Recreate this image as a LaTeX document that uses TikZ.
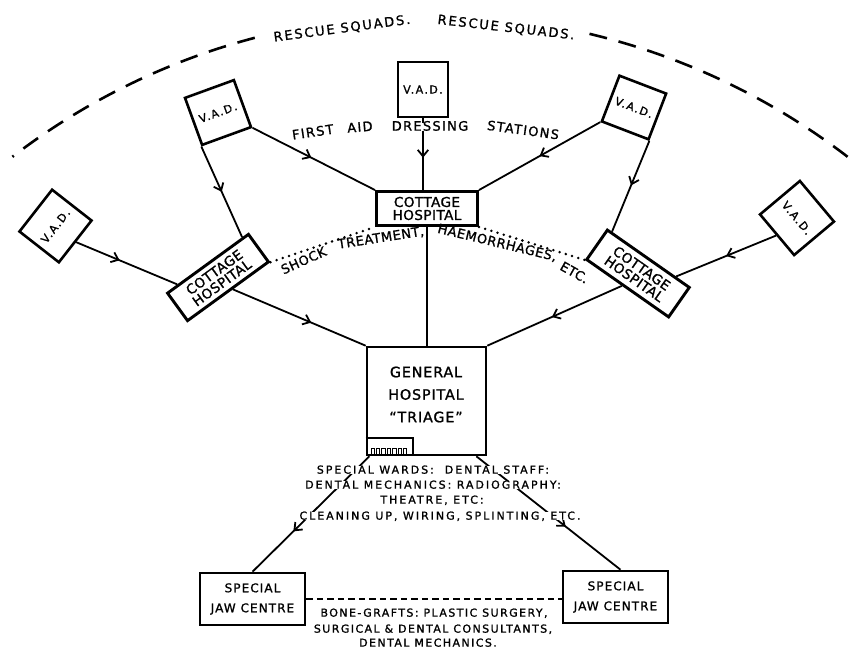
\documentclass[tikz,border=0pt]{standalone}
\usepackage{fontspec}
\setmainfont{DejaVu Sans}
\newfontfamily\fRes[LetterSpace=14,FakeBold=1.2]{DejaVu Sans}
\newfontfamily\fFirst[LetterSpace=10,FakeBold=1.2]{DejaVu Sans}
\newfontfamily\fShock[LetterSpace=4,FakeBold=1.2]{DejaVu Sans}
\newfontfamily\fCot[LetterSpace=3,FakeBold=1.2]{DejaVu Sans}
\newfontfamily\fGen[LetterSpace=6,FakeBold=1.2]{DejaVu Sans}
\newfontfamily\fVad[LetterSpace=13,FakeBold=1.2]{DejaVu Sans}
\newfontfamily\fJaw[LetterSpace=9,FakeBold=1.2]{DejaVu Sans}
\newfontfamily\fMid[LetterSpace=18,FakeBold=1.2]{DejaVu Sans}
\newfontfamily\fBot[LetterSpace=13,FakeBold=1.2]{DejaVu Sans}
\usetikzlibrary{calc,arrows.meta,decorations.markings}
\newcommand\fsRes{\fRes\fontsize{13}{14}\selectfont}
\newcommand\fsFirst{\fFirst\fontsize{13}{14}\selectfont}
\newcommand\fsShock{\fShock\fontsize{13}{14}\selectfont}
\newcommand\fsCot{\fCot\fontsize{13.6}{13}\selectfont}
\newcommand\fsGen{\fGen\fontsize{14.3}{22.5}\selectfont}
\newcommand\fsVad{\fVad\fontsize{11}{12}\selectfont}
\newcommand\fsJaw{\fJaw\fontsize{12}{20}\selectfont}
\newcommand\fsMid{\fMid\fontsize{11}{12}\selectfont}
\newcommand\fsBot{\fBot\fontsize{11}{12}\selectfont}
\begin{document}
\begin{tikzpicture}[x=1pt,y=-1pt,
  box/.style={draw, line width=2.6pt, inner sep=0pt, align=center},
  conn/.style={line width=1.8pt},
  midarrow/.style={postaction={decorate}, decoration={markings, mark=at position #1 with {\arrow{Straight Barb[length=6.5pt,width=10.5pt,line width=1.8pt]}}}},
  lab/.style={inner sep=0.6pt, text height=0.73em, text depth=0pt},
  bigdash/.style={line width=2.6pt, dash pattern=on 18pt off 12pt},
  dotline/.style={line width=2.8pt, line cap=round, dash pattern=on 0pt off 6.5pt},
  jawdash/.style={line width=2.4pt, dash pattern=on 6.5pt off 4pt}
]
\useasboundingbox (0,0) rectangle (849,649);

% outer dashed arc
\draw[bigdash] plot[domain=104.8:127.5, samples=50, variable=\t] ({430+686*cos(\t)},{701-686*sin(\t)});
\draw[bigdash] plot[domain=52.5:76.7, samples=50, variable=\t] ({430+686*cos(\t)},{701-686*sin(\t)});
\node[lab, font=\fsRes, rotate=7.5] (rs1) at (342,29) {RESCUE SQUADS.};
\node[lab, font=\fsRes, rotate=-6.5] (rs2) at (506,28) {RESCUE SQUADS.};

% V.A.D. boxes
\node[box, font=\fsVad, minimum width=50pt, minimum height=55pt] (vadtc) at (423,89.5) {V.A.D.};
\node[box, font=\fsVad, minimum width=52pt, minimum height=50pt, rotate=20] (vadtl) at (218,112.5) {V.A.D.};
\node[box, font=\fsVad, minimum width=50pt, minimum height=49pt, rotate=-21] (vadtr) at (634,107.5) {V.A.D.};
\node[box, font=\fsVad, minimum width=53pt, minimum height=50pt, rotate=52] (vadfl) at (55.5,226) {V.A.D.};
\node[box, font=\fsVad, minimum width=53pt, minimum height=52pt, rotate=-50] (vadfr) at (797,218) {V.A.D.};

% cottage hospitals
\node[box, line width=2.9pt, font=\fsCot, minimum width=101pt, minimum height=34pt] (cc) at (427,208.5) {COTTAGE\\HOSPITAL};
\node[box, line width=2.9pt, font=\fsCot, minimum width=100pt, minimum height=34pt, rotate=36] (lc) at (218,277.5) {COTTAGE\\HOSPITAL};
\node[box, line width=2.9pt, font=\fsCot, minimum width=100pt, minimum height=36pt, rotate=-35] (rc) at (638,273.5) {COTTAGE\\HOSPITAL};

% general hospital
\node[box, minimum width=119pt, minimum height=108pt] (gh) at (426.5,401) {};
\node[font=\fsGen, align=center, inner sep=0pt] (ghtext) at (426,394.5) {GENERAL\\HOSPITAL\\“TRIAGE”};
\draw[line width=1.6pt] (gh.south west |- 0,438) -- (413,438) -- (413,455);
\foreach \i in {0,...,6} \draw[line width=0.9pt] ({371+\i*5.4},454) -- ++(0,-6) -- ++(3.4,0) -- ++(0,6);

% jaw centres
\node[box, font=\fsJaw, minimum width=105pt, minimum height=52pt] (jl) at (252.5,599) {SPECIAL\\JAW CENTRE};
\node[box, font=\fsJaw, minimum width=105pt, minimum height=52pt] (jr) at (615.5,597) {SPECIAL\\JAW CENTRE};

% connectors
\draw[conn, midarrow=0.55] (vadtc.south) -- (vadtc.south |- cc.north);
\draw[conn, midarrow=0.48] (vadtl.south east) -- (cc.north west);
\draw[conn, midarrow=0.5] (vadtl.south west) -- ($(lc.north west)!0.92!(lc.north east)$);
\draw[conn, midarrow=0.43] (vadfl.south) -- ($(lc.north west)!0.14!(lc.north east)$);
\draw[conn, midarrow=0.59] ($(lc.south west)!0.55!(lc.south east)$) -- (gh.north west);
\draw[conn, midarrow=0.5] (vadtr.south west) -- (cc.north east);
\draw[conn, midarrow=0.49] (vadtr.south east) -- ($(rc.north west)!0.06!(rc.north east)$);
\draw[conn, midarrow=0.5] (vadfr.south) -- ($(rc.north west)!0.82!(rc.north east)$);
\draw[conn, midarrow=0.52] ($(rc.south west)!0.44!(rc.south east)$) -- (gh.north east);
\draw[conn] (cc.south) -- (cc.south |- gh.north);
\draw[conn, midarrow=0.65] ($(gh.south west)!0.03!(gh.south east)$) -- (jl.north);
\draw[conn, midarrow=0.62] ($(gh.south west)!0.91!(gh.south east)$) -- ($(jr.north)+(5,0)$);

% dotted and dashed links
\draw[dotline] (lc.south east) -- (cc.south west);
\draw[dotline] (cc.south east) -- (rc.south west);
\draw[jawdash] (jl.east) -- (jl.east -| jr.west);

% first aid label
\node[lab, font=\fsFirst, rotate=8.4] (fa1) at (313,133) {FIRST};
\node[lab, font=\fsFirst, rotate=4.7] (fa2) at (360,128) {AID};
\node[lab, font=\fsFirst, fill=white] (fa3) at (430,127) {DRESSING};
\node[lab, font=\fsFirst, rotate=-7.7] (fa4) at (523,131) {STATIONS};

% shock label
\node[lab, font=\fsShock, rotate=24.2] (sh1) at (304,261.4) {SHOCK};
\node[lab, font=\fsShock, rotate=8.8] (sh2) at (381,238.5) {TREATMENT,};
\node[lab, font=\fsShock, rotate=-13.5] (sh3) at (497,243.3) {HAEMORRHAGES,};
\node[lab, font=\fsShock, rotate=-29.3] (sh4) at (574,273.4) {ETC.};

% middle text
\node[lab, font=\fsMid, fill=white] (m1) at (433,470) {SPECIAL WARDS:\ \ DENTAL STAFF:};
\node[lab, font=\fsMid, fill=white] (m2) at (433,485) {DENTAL MECHANICS: RADIOGRAPHY:};
\node[lab, font=\fsMid, fill=white] (m3) at (432,500) {THEATRE, ETC:};
\node[lab, font=\fsMid, fill=white] (m4) at (440,516) {CLEANING UP, WIRING, SPLINTING, ETC.};

% bottom text
\node[lab, font=\fsBot] (b1) at (434,613) {BONE-GRAFTS: PLASTIC SURGERY,};
\node[lab, font=\fsBot] (b2) at (433,629) {SURGICAL \& DENTAL CONSULTANTS,};
\node[lab, font=\fsBot] (b3) at (428,643) {DENTAL MECHANICS.};
\end{tikzpicture}
\end{document}
